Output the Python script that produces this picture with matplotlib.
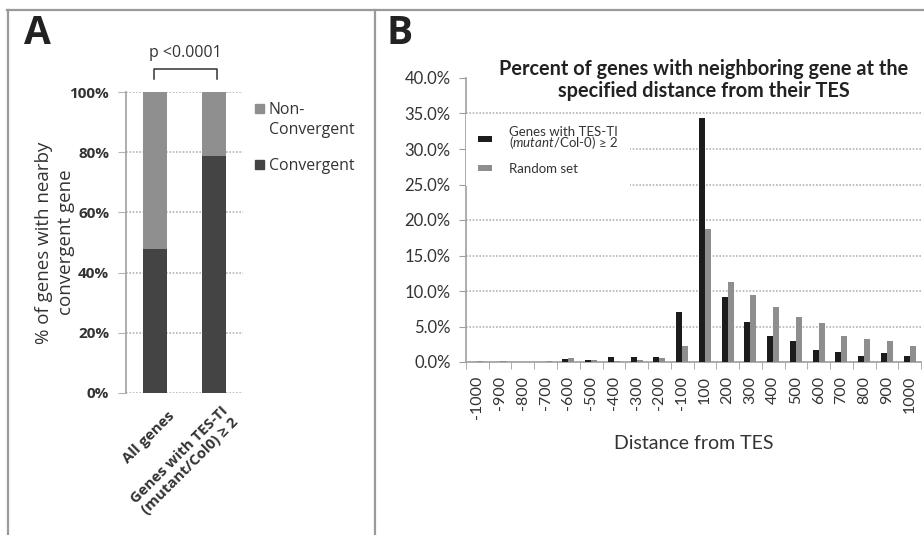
import numpy as np
import matplotlib.pyplot as plt
from matplotlib.lines import Line2D
from matplotlib.patches import Rectangle
from matplotlib.transforms import ScaledTranslation

# ── DADOS ─────────────────────────────────────────────────────────────────────

# painel A
grupos_a = ['All genes', 'Genes with TES-TI\n(mutant/Col0) \u2265 2']
convergent = [47.8, 78.8]
non_convergent = [52.2, 21.2]

# painel B
distancias = ['-1000', '-900', '-800', '-700', '-600', '-500', '-400', '-300', '-200', '-100',
              '100', '200', '300', '400', '500', '600', '700', '800', '900', '1000']
tes_ti = [0.05, 0.05, 0.0, 0.0, 0.4, 0.3, 0.65, 0.65, 0.75, 7.0,
          34.4, 9.2, 5.7, 3.6, 3.0, 1.7, 1.35, 0.85, 1.2, 0.85]
random_set = [0.1, 0.1, 0.05, 0.1, 0.6, 0.3, 0.15, 0.3, 0.5, 2.3,
              18.8, 11.2, 9.5, 7.8, 6.4, 5.5, 3.6, 3.3, 2.9, 2.2]

# ── ESTILO ────────────────────────────────────────────────────────────────────

plt.rcParams['mathtext.fontset'] = 'custom'
plt.rcParams['mathtext.it'] = 'Lato:italic'
plt.rcParams['mathtext.rm'] = 'Lato'

FONTE_A = 'Open Sans'
FONTE_B = 'Lato'
CINZA_EIXO = '#a0a0a0'
CINZA_GRADE = '#b4b4b4'

W, H = 924, 535
fig = plt.figure(figsize=(W / 100, H / 100), dpi=100)

def px(x0, y0, x1, y1):
    # caixa em pixels -> fração da figura
    return [x0 / W, 1 - y1 / H, (x1 - x0) / W, (y1 - y0) / H]

# bordas do painel
for xs, ys in [([7 / W, 1], [1 - 10 / H] * 2), ([8 / W] * 2, [0, 1 - 10 / H]),
               ([375 / W] * 2, [0, 1 - 10 / H])]:
    fig.add_artist(Line2D(xs, ys, color='#9a9a9a', lw=1.6, transform=fig.transFigure))

# ── PAINEL A ──────────────────────────────────────────────────────────────────

ax1 = fig.add_axes(px(126, 92, 243, 393))
x_a = np.arange(len(grupos_a))
ax1.bar(x_a, convergent, width=0.41, color='#444444', zorder=3)
ax1.bar(x_a, non_convergent, bottom=convergent, width=0.41, color='#8f8f8f', zorder=3)
ax1.set_xlim(-0.5, 1.5)
ax1.set_ylim(0, 100)
ax1.set_yticks(range(0, 101, 20))
ax1.set_yticklabels([f'{v}%' for v in range(0, 101, 20)], fontfamily=FONTE_A,
                    fontweight='bold', fontsize=11, color='#333333')
ax1.tick_params(axis='y', length=6, color=CINZA_GRADE, pad=6)
ax1.grid(axis='y', linestyle=(0, (1, 1)), color=CINZA_GRADE, lw=1.2, zorder=0)
for s in ['top', 'right', 'bottom']:
    ax1.spines[s].set_visible(False)
ax1.spines['left'].set_color(CINZA_EIXO)
ax1.spines['left'].set_linewidth(1.2)

ax1.set_xticks(x_a)
ax1.set_xticklabels(grupos_a, rotation=45, ha='right', va='center', rotation_mode='anchor',
                    fontfamily=FONTE_A, fontweight='bold', fontsize=10.8, color='#333333',
                    multialignment='center', linespacing=1.15)
ax1.tick_params(axis='x', length=0, pad=15)
for lab in ax1.get_xticklabels():
    lab.set_transform(lab.get_transform() + ScaledTranslation(0.17, 0, fig.dpi_scale_trans))

ax1.set_ylabel('% of genes with nearby\nconvergent gene', fontfamily=FONTE_A,
               fontsize=13.5, color='#333333', labelpad=-4)
ax1.yaxis.label.set_linespacing(1.3)

# p-valor
ax1.plot([-0.02, -0.02, 1.06, 1.06], [104.3, 107.6, 107.6, 104.3], color='#333333',
         lw=1.1, clip_on=False)
ax1.text(0.52, 113, 'p <0.0001', ha='center', va='center', fontfamily=FONTE_A,
         fontsize=11.5, color='#333333', clip_on=False)

# legenda A (quadrado alinhado à primeira linha)
for y0, cor, rot in [(108, '#8f8f8f', 'Non-\nConvergent'), (164, '#444444', 'Convergent')]:
    fig.add_artist(Rectangle((255 / W, 1 - (y0 + 4.5) / H), 9 / W, 9 / H,
                             color=cor, transform=fig.transFigure))
    fig.text(269 / W, 1 - (y0 - 6) / H, rot, ha='left', va='top', fontfamily=FONTE_A,
             fontsize=11.4, color='#333333', linespacing=1.3)

fig.text(24 / W, 1 - 33 / H, 'A', fontsize=28, fontweight='bold', fontfamily=FONTE_A,
         va='center', ha='left', color='#222222')

# ── PAINEL B ──────────────────────────────────────────────────────────────────

ax2 = fig.add_axes(px(466, 78, 921, 362))
x_b = np.arange(len(distancias))
lb = 0.26
ax2.bar(x_b - lb / 2, tes_ti, width=lb, color='#1c1c1c', zorder=3,
        label='Genes with TES-TI\n(' + r'$\mathit{mutant}$' + '/Col-0) \u2265 2')
ax2.bar(x_b + lb / 2, random_set, width=lb, color='#8e8e8e', zorder=3, label='Random set')
ax2.set_xlim(-0.5, len(distancias) - 0.5)
ax2.set_ylim(0, 40)
ax2.set_yticks(np.arange(0, 41, 5))
ax2.set_yticklabels([f'{v:.1f}%' for v in np.arange(0, 41, 5)], fontfamily=FONTE_B,
                    fontsize=12, color='#333333')
ax2.tick_params(axis='y', length=5, color=CINZA_EIXO, pad=6)
ax2.yaxis.grid(True, linestyle=(0, (1, 1)), color=CINZA_GRADE, lw=1.2, zorder=0)
ax2.get_ygridlines()[-1].set_visible(False)
ax2.set_axisbelow(True)

ax2.set_xticks(x_b)
ax2.set_xticklabels(distancias, rotation=90, fontfamily=FONTE_B, fontsize=11.5,
                    color='#333333')
ax2.set_xticks(np.arange(-0.5, len(distancias)), minor=True)
ax2.tick_params(axis='x', which='major', length=0, pad=10)
ax2.tick_params(axis='x', which='minor', length=5, color=CINZA_EIXO)
for s in ['top', 'right']:
    ax2.spines[s].set_visible(False)
for s in ['left', 'bottom']:
    ax2.spines[s].set_color(CINZA_EIXO)
    ax2.spines[s].set_linewidth(1.2)
ax2.set_xlabel('Distance from TES', fontfamily=FONTE_B, fontsize=14, color='#333333',
               labelpad=11)

leg = ax2.legend(loc='upper left', bbox_to_anchor=(-0.015, 0.895), frameon=True,
                 facecolor='white', edgecolor='none', framealpha=1, fancybox=False,
                 prop={'family': FONTE_B, 'size': 9.5}, handlelength=1.1, handleheight=0.35,
                 handletextpad=1.3, labelspacing=0.85, borderpad=0.9, labelcolor='#333333')
for t in leg.get_texts():
    t.set_linespacing(0.7)
leg.set_zorder(5)

fig.text(704 / W, 1 - 80 / H, 'Percent of genes with neighboring gene at the\n'
         'specified distance from their TES', ha='center', va='center',
         fontfamily=FONTE_B, fontweight='bold', fontsize=14.3, color='#222222', linespacing=1.15)

fig.text(386 / W, 1 - 34 / H, 'B', fontsize=28, fontweight='bold', fontfamily=FONTE_A,
         va='center', ha='left', color='#222222')

plt.savefig('out.png', dpi=100)
